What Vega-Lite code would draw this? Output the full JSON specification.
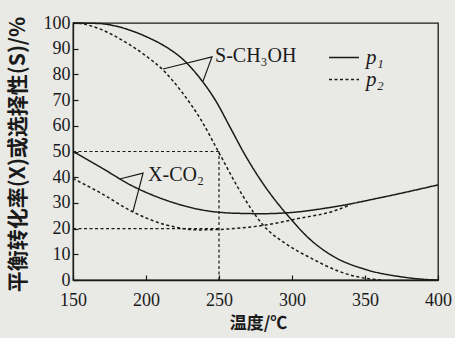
{
  "$schema": "https://vega.github.io/schema/vega-lite/v6.json",
  "width": 365,
  "height": 257,
  "autosize": {"type": "none"},
  "padding": {"left": 73, "top": 23, "right": 17, "bottom": 58},
  "background": "#e9e9e6",
  "config": {
    "view": {"stroke": "#1a1a1a", "strokeWidth": 1.3},
    "axis": {
      "grid": false,
      "domainColor": "#1a1a1a",
      "domainWidth": 1.3,
      "tickColor": "#1a1a1a",
      "tickSize": -5,
      "tickWidth": 1.2,
      "labelFont": "Liberation Serif",
      "labelFontSize": 18,
      "labelColor": "#1a1a1a",
      "labelOverlap": false,
      "labelFlush": false,
      "titleFont": "Noto Sans CJK SC",
      "titleColor": "#1a1a1a",
      "titleFontWeight": "bold"
    }
  },
  "datasets": {
    "curves": [
      {"curve": "S", "p": "p₁", "T": 150, "v": 100},
      {"curve": "S", "p": "p₁", "T": 168, "v": 99.8},
      {"curve": "S", "p": "p₁", "T": 180, "v": 98.7},
      {"curve": "S", "p": "p₁", "T": 191, "v": 96.8},
      {"curve": "S", "p": "p₁", "T": 202, "v": 94.2},
      {"curve": "S", "p": "p₁", "T": 214, "v": 90.6},
      {"curve": "S", "p": "p₁", "T": 226, "v": 85.5},
      {"curve": "S", "p": "p₁", "T": 237, "v": 78.5},
      {"curve": "S", "p": "p₁", "T": 248, "v": 69.5},
      {"curve": "S", "p": "p₁", "T": 258, "v": 59},
      {"curve": "S", "p": "p₁", "T": 268, "v": 48.5},
      {"curve": "S", "p": "p₁", "T": 282, "v": 36},
      {"curve": "S", "p": "p₁", "T": 298, "v": 24.5},
      {"curve": "S", "p": "p₁", "T": 312, "v": 16},
      {"curve": "S", "p": "p₁", "T": 328, "v": 9.3},
      {"curve": "S", "p": "p₁", "T": 351, "v": 4},
      {"curve": "S", "p": "p₁", "T": 374, "v": 1.3},
      {"curve": "S", "p": "p₁", "T": 392, "v": 0.2},
      {"curve": "S", "p": "p₁", "T": 400, "v": 0},
      {"curve": "S", "p": "p₂", "T": 150, "v": 100},
      {"curve": "S", "p": "p₂", "T": 156, "v": 99.7},
      {"curve": "S", "p": "p₂", "T": 168, "v": 97.8},
      {"curve": "S", "p": "p₂", "T": 180, "v": 94.5},
      {"curve": "S", "p": "p₂", "T": 198, "v": 88},
      {"curve": "S", "p": "p₂", "T": 212, "v": 81.5},
      {"curve": "S", "p": "p₂", "T": 225, "v": 72.8},
      {"curve": "S", "p": "p₂", "T": 238, "v": 62},
      {"curve": "S", "p": "p₂", "T": 250, "v": 49.5},
      {"curve": "S", "p": "p₂", "T": 266.7, "v": 32.4},
      {"curve": "S", "p": "p₂", "T": 280, "v": 21.5},
      {"curve": "S", "p": "p₂", "T": 296, "v": 14},
      {"curve": "S", "p": "p₂", "T": 312, "v": 8.8},
      {"curve": "S", "p": "p₂", "T": 333, "v": 3.2},
      {"curve": "S", "p": "p₂", "T": 351, "v": 0.6},
      {"curve": "S", "p": "p₂", "T": 362, "v": 0},
      {"curve": "X", "p": "p₁", "T": 150, "v": 50},
      {"curve": "X", "p": "p₁", "T": 168.5, "v": 44},
      {"curve": "X", "p": "p₁", "T": 191, "v": 36.5},
      {"curve": "X", "p": "p₁", "T": 214, "v": 31},
      {"curve": "X", "p": "p₁", "T": 237, "v": 27.4},
      {"curve": "X", "p": "p₁", "T": 260, "v": 26},
      {"curve": "X", "p": "p₁", "T": 280, "v": 25.8},
      {"curve": "X", "p": "p₁", "T": 298, "v": 26.2},
      {"curve": "X", "p": "p₁", "T": 328, "v": 28.4},
      {"curve": "X", "p": "p₁", "T": 362, "v": 32.2},
      {"curve": "X", "p": "p₁", "T": 400, "v": 37},
      {"curve": "X", "p": "p₂", "T": 150, "v": 39.5},
      {"curve": "X", "p": "p₂", "T": 168.5, "v": 34},
      {"curve": "X", "p": "p₂", "T": 191, "v": 26.5},
      {"curve": "X", "p": "p₂", "T": 214, "v": 21.4},
      {"curve": "X", "p": "p₂", "T": 237, "v": 19.5},
      {"curve": "X", "p": "p₂", "T": 260, "v": 20},
      {"curve": "X", "p": "p₂", "T": 283, "v": 21.5},
      {"curve": "X", "p": "p₂", "T": 305, "v": 24},
      {"curve": "X", "p": "p₂", "T": 328, "v": 26.7},
      {"curve": "X", "p": "p₂", "T": 340, "v": 29.3}
    ],
    "refs": [
      {"g": "h50", "o": 1, "T": 150, "v": 50},
      {"g": "h50", "o": 2, "T": 250, "v": 50},
      {"g": "h20", "o": 1, "T": 150, "v": 20},
      {"g": "h20", "o": 2, "T": 250, "v": 20},
      {"g": "v250", "o": 1, "T": 250, "v": 0},
      {"g": "v250", "o": 2, "T": 250, "v": 50}
    ],
    "leaders": [
      {"g": "S", "o": 1, "T": 211.6, "v": 82.1},
      {"g": "S", "o": 2, "T": 245.2, "v": 86.8},
      {"g": "S", "o": 3, "T": 239, "v": 77.3},
      {"g": "X", "o": 1, "T": 182, "v": 39.3},
      {"g": "X", "o": 2, "T": 198, "v": 41.6},
      {"g": "X", "o": 3, "T": 191, "v": 26.5}
    ],
    "labels": [
      {"label": "S-CH₃OH", "T": 247.3, "v": 84.8},
      {"label": "X-CO₂", "T": 201.4, "v": 38.5}
    ]
  },
  "encoding": {
    "x": {"field": "T", "type": "quantitative", "scale": {"domain": [150, 400], "nice": false, "zero": false},
      "axis": {"values": [150, 200, 250, 300, 350, 400], "title": "温度/℃", "titleFontSize": 17, "labelFont": "Liberation Serif", "labelFontSize": 18, "labelPadding": 16, "labelFlush": false, "labelOverlap": false, "titleX": 185, "titleY": 43, "titleBaseline": "middle"}},
    "y": {"field": "v", "type": "quantitative", "scale": {"domain": [0, 100], "nice": false},
      "axis": {"values": [0, 10, 20, 30, 40, 50, 60, 70, 80, 90, 100], "title": "平衡转化率(X)或选择性(S)/%", "titleFontSize": 21, "labelFont": "Liberation Serif", "labelFontSize": 18, "labelPadding": 8, "labelOverlap": false, "labelFlush": false, "titleX": -55, "titleY": 131, "titleAlign": "center", "titleBaseline": "middle", "titleAngle": -90}}
  },
  "layer": [
    {
      "data": {"name": "refs"},
      "mark": {"type": "line", "stroke": "#1a1a1a", "strokeWidth": 1.2, "strokeDash": [3, 2.5]},
      "encoding": {
        "detail": {"field": "g"},
        "order": {"field": "o"}
      }
    },
    {
      "data": {"name": "curves"},
      "mark": {"type": "line", "stroke": "#1a1a1a", "strokeWidth": 1.5, "interpolate": "monotone"},
      "encoding": {
        "detail": {"field": "curve"},
        "strokeDash": {"field": "p", "type": "nominal",
          "scale": {"domain": ["p₁", "p₂"], "range": [[1, 0], [3, 2.5]]},
          "legend": {"orient": "none", "legendX": 255, "legendY": 25, "title": null, "symbolType": "stroke", "symbolSize": 900, "symbolStrokeColor": "#1a1a1a", "symbolStrokeWidth": 1.3, "labelFont": "Liberation Serif", "labelFontStyle": "italic", "labelFontSize": 21, "labelColor": "#1a1a1a", "labelOffset": 6, "rowPadding": 0, "clipHeight": 19}}
      }
    },
    {
      "data": {"name": "leaders"},
      "mark": {"type": "line", "stroke": "#1a1a1a", "strokeWidth": 1.2},
      "encoding": {
        "detail": {"field": "g"},
        "order": {"field": "o"}
      }
    },
    {
      "data": {"name": "labels"},
      "mark": {"type": "text", "align": "left", "baseline": "alphabetic", "font": "Liberation Serif", "fontSize": 20, "fill": "#1a1a1a"},
      "encoding": {
        "text": {"field": "label"}
      }
    }
  ]
}
